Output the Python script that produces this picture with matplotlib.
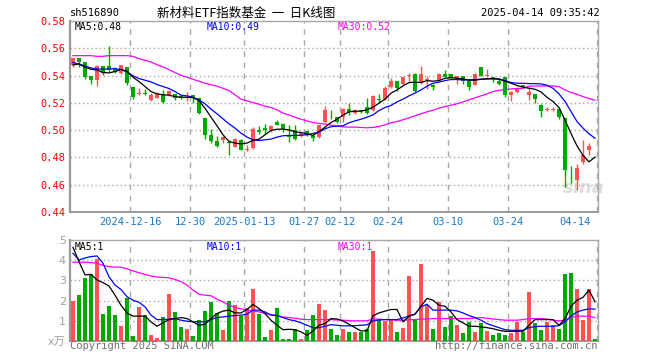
import matplotlib
matplotlib.use("Agg")
import matplotlib.pyplot as plt
import numpy as np

code = "sh516890"
title = "新材料ETF指数基金  一  日K线图"
stamp = "2025-04-14 09:35:42"

opens = [0.5478, 0.5527, 0.5500, 0.5398, 0.5368, 0.5471, 0.5471, 0.5446, 0.5417, 0.5461,
         0.5317, 0.5264, 0.5266, 0.5219, 0.5239, 0.5266, 0.5254, 0.5266, 0.5251, 0.5234,
         0.5258, 0.5234, 0.5088, 0.4966, 0.4917, 0.4929, 0.4907, 0.4880, 0.4929, 0.4856,
         0.4868, 0.4998, 0.5017, 0.4998, 0.5061, 0.5046, 0.4966, 0.4998, 0.4959, 0.4995,
         0.4958, 0.4949, 0.5061, 0.5149, 0.5095, 0.5095, 0.5154, 0.5124, 0.5144, 0.5168,
         0.5144, 0.5227, 0.5227, 0.5319, 0.5359, 0.5339, 0.5395, 0.5412, 0.5344, 0.5366,
         0.5334, 0.5368, 0.5412, 0.5412, 0.5378, 0.5398, 0.5363, 0.5334, 0.5461, 0.5395,
         0.5383, 0.5359, 0.5388, 0.5259, 0.5276, 0.5332, 0.5259, 0.5266, 0.5185, 0.5151,
         0.5151, 0.5154, 0.5090, 0.4693, 0.4637, 0.4763, 0.4856, 0.4905]
highs = [0.5532, 0.5527, 0.5502, 0.5400, 0.5476, 0.5471, 0.5620, 0.5461, 0.5480, 0.5463,
         0.5317, 0.5310, 0.5300, 0.5271, 0.5283, 0.5295, 0.5292, 0.5268, 0.5256, 0.5283,
         0.5261, 0.5236, 0.5090, 0.5007, 0.4954, 0.4954, 0.4929, 0.4939, 0.4934, 0.4890,
         0.5022, 0.5032, 0.5046, 0.5037, 0.5071, 0.5049, 0.5039, 0.5039, 0.4980, 0.4998,
         0.4961, 0.5041, 0.5178, 0.5149, 0.5098, 0.5159, 0.5202, 0.5154, 0.5151, 0.5234,
         0.5259, 0.5263, 0.5324, 0.5380, 0.5361, 0.5393, 0.5417, 0.5420, 0.5471, 0.5398,
         0.5336, 0.5420, 0.5441, 0.5414, 0.5400, 0.5400, 0.5378, 0.5420, 0.5463, 0.5446,
         0.5393, 0.5378, 0.5390, 0.5290, 0.5315, 0.5334, 0.5315, 0.5268, 0.5188, 0.5173,
         0.5173, 0.5173, 0.5092, 0.4739, 0.4754, 0.4929, 0.4907, 0.4907]
lows = [0.5466, 0.5461, 0.5378, 0.5341, 0.5327, 0.5405, 0.5429, 0.5417, 0.5410, 0.5334,
        0.5227, 0.5259, 0.5259, 0.5215, 0.5232, 0.5202, 0.5249, 0.5222, 0.5227, 0.5215,
        0.5202, 0.5120, 0.4934, 0.4905, 0.4876, 0.4905, 0.4815, 0.4873, 0.4851, 0.4846,
        0.4863, 0.4973, 0.4971, 0.4988, 0.5037, 0.4983, 0.4910, 0.4930, 0.4952, 0.4954,
        0.4924, 0.4944, 0.5051, 0.5080, 0.5051, 0.5063, 0.5112, 0.5115, 0.5124, 0.5120,
        0.5139, 0.5198, 0.5222, 0.5307, 0.5290, 0.5332, 0.5363, 0.5280, 0.5337, 0.5302,
        0.5295, 0.5363, 0.5390, 0.5378, 0.5339, 0.5339, 0.5295, 0.5329, 0.5398, 0.5388,
        0.5356, 0.5332, 0.5246, 0.5215, 0.5271, 0.5312, 0.5222, 0.5202, 0.5100, 0.5139,
        0.5139, 0.5083, 0.4583, 0.4612, 0.4559, 0.4754, 0.4820, 0.4903]
closes = [0.5527, 0.5502, 0.5393, 0.5368, 0.5471, 0.5422, 0.5441, 0.5427, 0.5476, 0.5344,
          0.5241, 0.5266, 0.5264, 0.5259, 0.5263, 0.5207, 0.5288, 0.5232, 0.5232, 0.5246,
          0.5241, 0.5124, 0.4961, 0.4917, 0.4885, 0.4949, 0.4905, 0.4937, 0.4856, 0.4859,
          0.5012, 0.4983, 0.4998, 0.5032, 0.5041, 0.5007, 0.4949, 0.4937, 0.4978, 0.4961,
          0.4939, 0.5039, 0.5149, 0.5144, 0.5061, 0.5154, 0.5134, 0.5149, 0.5141, 0.5124,
          0.5251, 0.5224, 0.5307, 0.5359, 0.5312, 0.5388, 0.5398, 0.5290, 0.5412, 0.5368,
          0.5319, 0.5415, 0.5393, 0.5380, 0.5398, 0.5363, 0.5319, 0.5415, 0.5400, 0.5398,
          0.5380, 0.5339, 0.5259, 0.5280, 0.5307, 0.5315, 0.5283, 0.5227, 0.5141, 0.5154,
          0.5154, 0.5095, 0.4710, 0.4690, 0.4722, 0.4817, 0.4885, 0.4903]

ma5 = [0.5478, 0.5485, 0.5461, 0.5446, 0.5441, 0.5422, 0.5420, 0.5429, 0.5446, 0.5432,
       0.5388, 0.5356, 0.5320, 0.5283, 0.5266, 0.5259, 0.5256, 0.5246, 0.5241, 0.5241,
       0.5239, 0.5217, 0.5161, 0.5095, 0.5032, 0.4966, 0.4917, 0.4905, 0.4900, 0.4905,
       0.4924, 0.4934, 0.4966, 0.4998, 0.5007, 0.5007, 0.5002, 0.4988, 0.4983, 0.4973,
       0.4961, 0.4990, 0.5022, 0.5056, 0.5080, 0.5110, 0.5134, 0.5139, 0.5139, 0.5149,
       0.5168, 0.5198, 0.5227, 0.5271, 0.5295, 0.5324, 0.5349, 0.5351, 0.5349, 0.5363,
       0.5359, 0.5363, 0.5380, 0.5385, 0.5380, 0.5376, 0.5366, 0.5366, 0.5373, 0.5376,
       0.5378, 0.5373, 0.5359, 0.5344, 0.5327, 0.5315, 0.5307, 0.5300, 0.5280, 0.5241,
       0.5210, 0.5165, 0.5075, 0.4975, 0.4885, 0.4815, 0.4768, 0.4802]
ma10 = [0.5495, 0.5485, 0.5471, 0.5456, 0.5449, 0.5446, 0.5449, 0.5451, 0.5444, 0.5427,
        0.5398, 0.5378, 0.5366, 0.5354, 0.5334, 0.5320, 0.5305, 0.5283, 0.5256, 0.5251,
        0.5241, 0.5222, 0.5193, 0.5154, 0.5120, 0.5083, 0.5046, 0.5015, 0.4978, 0.4949,
        0.4929, 0.4924, 0.4929, 0.4934, 0.4949, 0.4959, 0.4961, 0.4961, 0.4963, 0.4966,
        0.4976, 0.4985, 0.5010, 0.5025, 0.5030, 0.5032, 0.5054, 0.5068, 0.5080, 0.5095,
        0.5112, 0.5144, 0.5166, 0.5181, 0.5207, 0.5227, 0.5251, 0.5271, 0.5295, 0.5322,
        0.5344, 0.5352, 0.5363, 0.5371, 0.5371, 0.5368, 0.5368, 0.5371, 0.5373, 0.5376,
        0.5376, 0.5376, 0.5363, 0.5349, 0.5344, 0.5344, 0.5341, 0.5341, 0.5339, 0.5329,
        0.5307, 0.5266, 0.5210, 0.5137, 0.5063, 0.5015, 0.4973, 0.4941]
ma30 = [0.5546, 0.5546, 0.5546, 0.5546, 0.5541, 0.5541, 0.5546, 0.5546, 0.5546, 0.5546,
        0.5541, 0.5524, 0.5512, 0.5500, 0.5480, 0.5463, 0.5444, 0.5422, 0.5402, 0.5388,
        0.5373, 0.5359, 0.5344, 0.5334, 0.5322, 0.5307, 0.5290, 0.5259, 0.5227, 0.5215,
        0.5202, 0.5190, 0.5176, 0.5166, 0.5149, 0.5125, 0.5110, 0.5095, 0.5080, 0.5068,
        0.5056, 0.5049, 0.5044, 0.5037, 0.5029, 0.5024, 0.5022, 0.5022, 0.5020, 0.5017,
        0.5020, 0.5027, 0.5039, 0.5054, 0.5063, 0.5076, 0.5090, 0.5105, 0.5120, 0.5134,
        0.5146, 0.5161, 0.5173, 0.5183, 0.5193, 0.5207, 0.5222, 0.5237, 0.5251, 0.5266,
        0.5282, 0.5292, 0.5298, 0.5302, 0.5305, 0.5307, 0.5322, 0.5324, 0.5324, 0.5324,
        0.5324, 0.5319, 0.5295, 0.5276, 0.5263, 0.5246, 0.5232, 0.5220]

# volume in 10k lots
volumes = [1.99, 2.27, 3.13, 3.32, 4.08, 1.33, 1.72, 1.28, 0.73, 2.14,
           0.23, 1.67, 1.28, 0.28, 0.13, 1.18, 2.34, 1.44, 0.68, 0.58,
           0.23, 1.03, 1.48, 1.92, 1.38, 0.53, 1.97, 1.77, 1.23, 1.63,
           2.57, 1.33, 0.18, 0.53, 1.63, 0.08, 0.08, 0.58, 0.08, 0.53,
           1.28, 1.82, 1.53, 0.60, 0.28, 0.58, 0.43, 0.43, 0.43, 0.58,
           4.46, 1.08, 0.98, 1.08, 0.43, 0.63, 3.22, 1.03, 3.81, 1.77,
           0.58, 1.92, 0.68, 1.23, 0.78, 0.38, 0.93, 0.43, 0.88, 0.48,
           0.28, 0.38, 0.28, 0.38, 0.93, 0.43, 2.42, 0.88, 0.53, 0.93,
           0.78, 0.58, 3.32, 3.37, 2.57, 1.03, 2.57, 0.08]
vma5 = [4.64, 3.93, 3.27, 3.30, 3.02, 2.89, 2.72, 2.27, 1.77, 1.39,
        1.23, 1.23, 1.23, 0.95, 0.73, 0.90, 1.06, 1.11, 1.16, 1.11,
        0.95, 0.78, 0.83, 1.11, 1.36, 1.48, 1.53, 1.39, 1.39, 1.56,
        1.81, 1.61, 1.36, 1.03, 0.78, 0.56, 0.58, 0.56, 0.45, 0.28,
        0.50, 0.78, 0.86, 1.11, 1.09, 0.99, 0.83, 0.66, 0.50, 0.50,
        1.25, 1.39, 1.48, 1.56, 1.56, 0.95, 1.23, 1.33, 1.72, 2.11,
        2.02, 1.77, 1.72, 1.44, 1.06, 0.90, 0.73, 0.73, 0.70, 0.66,
        0.61, 0.53, 0.48, 0.48, 0.48, 0.48, 0.78, 1.06, 1.06, 1.06,
        1.06, 0.78, 1.10, 1.72, 2.02, 2.16, 2.52, 1.94]
vma10 = [4.34, 4.01, 4.11, 4.18, 4.21, 3.85, 3.18, 2.77, 2.55, 2.19,
         2.02, 1.92, 1.69, 1.28, 1.06, 1.06, 1.08, 1.11, 1.03, 0.98,
         0.95, 0.95, 0.95, 1.06, 1.16, 1.19, 1.23, 1.26, 1.28, 1.33,
         1.53, 1.53, 1.44, 1.28, 1.26, 1.16, 1.06, 1.00, 0.90, 0.78,
         0.66, 0.66, 0.73, 0.81, 0.78, 0.75, 0.75, 0.76, 0.78, 0.80,
         1.00, 1.04, 1.06, 1.06, 1.06, 1.14, 1.24, 1.33, 1.69, 1.82,
         1.53, 1.53, 1.53, 1.53, 1.49, 1.39, 1.26, 1.16, 1.03, 0.86,
         0.76, 0.66, 0.56, 0.53, 0.53, 0.53, 0.66, 0.71, 0.73, 0.73,
         0.73, 0.76, 0.95, 1.23, 1.44, 1.53, 1.59, 1.58]
vma30 = [3.90, 3.90, 3.90, 3.88, 3.85, 3.75, 3.68, 3.66, 3.65, 3.57,
         3.47, 3.38, 3.30, 3.22, 3.17, 3.15, 3.13, 3.05, 2.94, 2.77,
         2.52, 2.31, 2.27, 2.24, 2.07, 1.94, 1.77, 1.66, 1.59, 1.53,
         1.49, 1.44, 1.36, 1.31, 1.26, 1.19, 1.16, 1.13, 1.08, 1.06,
         1.06, 1.06, 1.06, 1.06, 1.04, 1.03, 1.01, 1.00, 1.00, 1.00,
         1.09, 1.08, 1.06, 1.05, 1.03, 1.03, 1.05, 1.06, 1.08, 1.09,
         1.11, 1.11, 1.11, 1.11, 1.11, 1.11, 1.11, 1.14, 1.16, 1.13,
         1.09, 1.06, 1.03, 1.03, 1.03, 1.06, 1.11, 1.11, 1.11, 1.09,
         1.03, 1.00, 1.03, 1.16, 1.23, 1.23, 1.23, 1.16]

# index of the trading day each date label refers to
date_index = [10, 20, 29, 39, 45, 53, 63, 73, 87]
date_labels = ["2024-12-16", "12-30", "2025-01-13", "01-27", "02-12",
               "02-24", "03-10", "03-24", "04-14"]
price_ticks = [0.44, 0.46, 0.48, 0.50, 0.52, 0.54, 0.56, 0.58]
vol_ticks = [0, 1, 2, 3, 4, 5]

RED = "#ff5252"
GREEN = "#00a800"
GRID = "#a8a8a8"


def style_panel(ax):
    for s in ax.spines.values():
        s.set_color("#a8a8a8")
        s.set_linewidth(1.0)
    ax.spines["left"].set_color("#9a9a9a")
    ax.spines["left"].set_linewidth(1.6)
    ax.spines["bottom"].set_color("#9a9a9a")
    ax.spines["bottom"].set_linewidth(1.4)
    ax.set_xlim(-0.5, 87.5)
    ax.set_xticks([])
    ax.tick_params(axis="y", length=0, pad=3)
    for d in date_index[:-1]:
        ax.axvline(d - 0.5, color=GRID, lw=1, ls=(0, (4, 4)), zorder=0)
    ax.axvline(87.35, color=GRID, lw=1, ls=(0, (4, 4)), zorder=0)


def main():
    plt.rcParams["font.family"] = ["DejaVu Sans Mono", "Noto Sans CJK SC"]
    fig = plt.figure(figsize=(6.6, 3.6), dpi=100)
    ax = fig.add_axes([70 / 660, 1 - 212 / 360, 528 / 660, 191 / 360])
    vx = fig.add_axes([70 / 660, 1 - 341 / 360, 528 / 660, 101 / 360])

    x = np.arange(len(closes))
    o = np.array(opens)
    c = np.array(closes)
    colors = np.where(c >= o, RED, GREEN)

    # candles
    style_panel(ax)
    for p in price_ticks[1:-1]:
        ax.axhline(p, color=GRID, lw=1, ls=(0, (1, 2)), zorder=0)
    ax.vlines(x, lows, highs, colors=colors, lw=1, zorder=2)
    body = np.maximum(np.abs(c - o), 0.0006)
    ax.bar(x, body, 0.82, bottom=np.minimum(o, c), color=colors, lw=0, zorder=3)
    ax.plot(x, ma30, color="#ff00ff", lw=0.9, zorder=4)
    ax.plot(x, ma10, color="#0000ff", lw=0.9, zorder=4)
    ax.plot(x, ma5, color="black", lw=0.9, zorder=5)
    ax.set_ylim(0.44, 0.58)
    ax.set_yticks(price_ticks)
    ax.set_yticklabels(["%.2f" % p for p in price_ticks], color="red", fontsize=7.5)

    for d, lab in zip(date_index, date_labels):
        if d == date_index[-1]:
            ax.text(86.3, -0.025, lab, transform=ax.get_xaxis_transform(),
                    ha="right", va="top", color="#1a78c8", fontsize=7.5)
        else:
            ax.text(d - 0.5, -0.025, lab, transform=ax.get_xaxis_transform(),
                    ha="center", va="top", color="#1a78c8", fontsize=7.5)

    ax.text(0.009, 0.995, "MA5:%.2f" % ma5[-1], transform=ax.transAxes,
            va="top", fontsize=7, color="black")
    ax.text(0.258, 0.995, "MA10:%.2f" % ma10[-1], transform=ax.transAxes,
            va="top", fontsize=7, color="#0000ff")
    ax.text(0.507, 0.995, "MA30:%.2f" % ma30[-1], transform=ax.transAxes,
            va="top", fontsize=7, color="#ff00ff")
    ax.text(85.2, 0.4575, "sina", fontsize=13, fontstyle="italic", fontweight="bold",
            family="DejaVu Sans", color="#c8c8c8", alpha=0.6, ha="center", va="center",
            zorder=1)

    # volume
    style_panel(vx)
    for v in vol_ticks[1:-1]:
        vx.axhline(v, color=GRID, lw=1, ls=(0, (1, 2)), zorder=0)
    vx.bar(x, volumes, 0.82, color=colors, lw=0, zorder=3)
    vx.plot(x, vma30, color="#ff00ff", lw=0.9, zorder=4)
    vx.plot(x, vma10, color="#0000ff", lw=0.9, zorder=4)
    vx.plot(x, vma5, color="black", lw=0.9, zorder=5)
    vx.set_ylim(0, 5)
    vx.set_yticks(vol_ticks)
    vx.set_yticklabels(["x万"] + [str(v) for v in vol_ticks[1:]],
                       color="#a0a0a0", fontsize=8,
                       family=["DejaVu Sans", "Noto Sans CJK SC"])
    vx.text(0.009, 0.985, "MA5:%d" % int(vma5[-1]), transform=vx.transAxes,
            va="top", fontsize=7, color="black")
    vx.text(0.258, 0.985, "MA10:%d" % int(vma10[-1]), transform=vx.transAxes,
            va="top", fontsize=7, color="#0000ff")
    vx.text(0.507, 0.985, "MA30:%d" % int(vma30[-1]), transform=vx.transAxes,
            va="top", fontsize=7, color="#ff00ff")

    # header and footer
    fig.text(70 / 660, 1 - 13 / 360, code, fontsize=7.5, va="center")
    fig.text(246 / 660, 1 - 13 / 360, title, fontsize=9, va="center", ha="center",
             family=["Noto Sans CJK SC"])
    fig.text(600 / 660, 1 - 13 / 360, stamp, fontsize=7.5, va="center", ha="right")
    fig.text(70 / 660, 1 - 346 / 360, "Copyright 2025 SINA.COM", fontsize=7.5,
             va="center", color="#707070")
    fig.text(598 / 660, 1 - 346 / 360, "http://finance.sina.com.cn", fontsize=7.5,
             va="center", ha="right", color="#707070")

    fig.savefig("out.png", dpi=100)


if __name__ == "__main__":
    main()
